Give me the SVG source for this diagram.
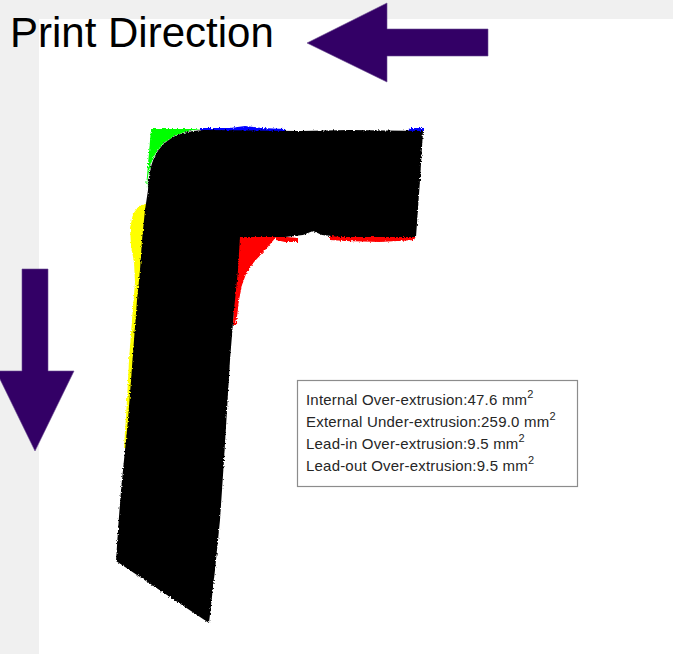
<svg xmlns="http://www.w3.org/2000/svg" width="673" height="654" viewBox="0 0 673 654">
  <defs>
    <style>
      .arrow { fill: #330066; stroke: #6a4a90; stroke-width: 0.6; }
      .title { font-family: "Liberation Sans", Arial, sans-serif; font-size: 42px; fill: #000; }
      .leg { font-family: "Liberation Sans", Arial, sans-serif; font-size: 15px; letter-spacing: 0.2px; fill: #262626; }
      .sup { font-size: 11px; }
    </style>
    <filter id="rough" x="-5%" y="-5%" width="110%" height="110%">
      <feTurbulence type="fractalNoise" baseFrequency="0.6" numOctaves="2" seed="3" result="n"/>
      <feDisplacementMap in="SourceGraphic" in2="n" scale="3" xChannelSelector="R" yChannelSelector="G"/>
    </filter>
  </defs>

  <!-- background -->
  <rect x="0" y="0" width="673" height="654" fill="#f0f0f0"/>
  <rect x="39" y="19" width="634" height="635" fill="#ffffff"/>

  <g id="title">
    <text class="title" x="10" y="47">Print Direction</text>
  </g>

  <g id="arrow-left">
    <polygon class="arrow" points="307,43 387,3 387,29 488,29 488,56 387,56 387,82"/>
  </g>
  <g id="arrow-down">
    <polygon class="arrow" points="22,269 48,269 48,371 74,371 35,451 -4,371 22,371"/>
  </g>

  <g id="shape" filter="url(#rough)">
    <!-- green lead-in -->
    <path id="green" fill="#00ff00" d="M151,129 L205,129 C166,131 148,150 147,190 L146,188 Z"/>
    <!-- blue -->
    <path id="blue" fill="#0000ff" d="M200,131 L200,128 L230,128 L245,126 L262,128 L285,129 L285,132 Z M408,131 L410,128 L424,128 L424,131 Z"/>
    <!-- yellow -->
    <path id="yellow" fill="#ffff00" d="M148,203 L139,206 L133,214 L130,228 L131,246 L134,262 L135,282 L132,320 L129,360 L127,400 L124,448 L135,448 L150,203 Z"/>
    <!-- red -->
    <path id="red" fill="#ff0000" d="M237,236 L277,236 L266,249 L254,262 L246,274 L242,285 L239,300 L236,325 L233,325 Z M276,236 L298,238 L298,242 L285,242 L276,240 Z M330,236 L416,236 L414,240 L380,242 L345,241 L330,240 Z"/>
    <!-- black print -->
    <path id="black" fill="#000000" d="M205,130 L300,131 L350,130 L423,131 L420,180 L416,237 L340,237 L322,235 L313,231 L303,235 L285,237 L240,237 L238,270 L234,310 L230,360 L227,410 L224,460 L220,520 L215,570 L209,623 L116,561 L118,530 L121,490 L125,450 L128,420 L131,380 L134,340 L137,300 L140,270 L142,240 L145,210 L148,190 C149,150 166,131 205,130 Z"/>
  </g>

  <g id="legend">
    <rect x="297.5" y="380.5" width="280" height="106" fill="#ffffff" stroke="#8c8c8c" stroke-width="1.2"/>
    <text class="leg" x="306" y="405">Internal Over-extrusion:47.6 mm<tspan class="sup" dy="-7">2</tspan></text>
    <text class="leg" x="306" y="427">External Under-extrusion:259.0 mm<tspan class="sup" dy="-7">2</tspan></text>
    <text class="leg" x="306" y="449">Lead-in Over-extrusion:9.5 mm<tspan class="sup" dy="-7">2</tspan></text>
    <text class="leg" x="306" y="471">Lead-out Over-extrusion:9.5 mm<tspan class="sup" dy="-7">2</tspan></text>
  </g>
</svg>
